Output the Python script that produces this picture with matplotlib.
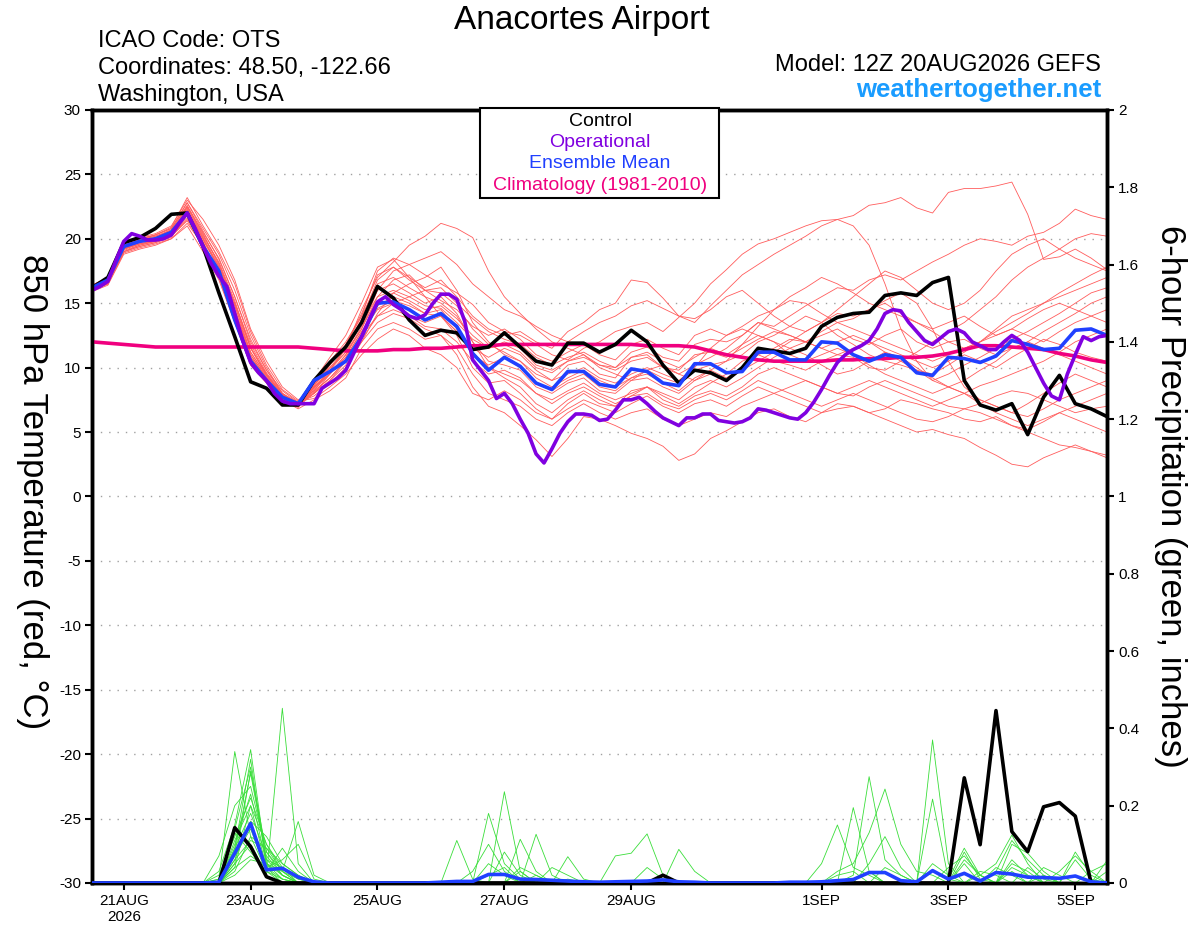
import numpy as np
import pandas as pd
import matplotlib
matplotlib.use('Agg')
import matplotlib.pyplot as plt
from matplotlib.patches import Rectangle

plt.rcParams['font.family'] = ['Liberation Sans', 'DejaVu Sans']

# 6-hourly ensemble times, 3-hourly operational times
times6 = pd.date_range('2026-08-20 12:00', periods=65, freq='6h')
times3 = pd.date_range('2026-08-20 12:00', periods=129, freq='3h')

tick_dates = pd.to_datetime(['2026-08-21', '2026-08-23', '2026-08-25', '2026-08-27',
                             '2026-08-29', '2026-09-01', '2026-09-03', '2026-09-05'])
tick_labels = ['21AUG\n2026', '23AUG', '25AUG', '27AUG', '29AUG', '1SEP', '3SEP', '5SEP']

# 850 hPa temperature (C)
control_t = [16.2, 17.0, 19.7, 20.1, 20.8, 21.9, 22.0, 19.4, 15.8, 12.4, 8.9, 8.4, 7.1, 7.1, 9.0, 10.4, 11.6, 13.5, 16.3, 15.4, 13.7, 12.5, 12.9, 12.7, 11.4,
             11.6, 12.7, 11.6, 10.5, 10.2, 11.9, 11.9, 11.2, 11.8, 12.9, 12.0, 10.2, 8.8, 9.8, 9.6, 9.0, 10.0,
             11.5, 11.3, 11.1, 11.5, 13.2, 13.9, 14.2, 14.3, 15.6, 15.8, 15.6, 16.6, 17.0, 9.0, 7.1, 6.7, 7.2, 4.8, 7.7, 9.4, 7.2, 6.8, 6.2]

mean_t = [16.2, 16.8, 19.4, 19.8, 20.0, 20.5, 22.0, 19.4, 17.5, 13.7, 10.5, 9.0, 7.7, 7.2, 9.0, 9.7, 10.5, 12.4, 15.0, 15.1, 14.5, 13.7, 14.2, 13.2, 11.1,
          9.8, 10.8, 10.1, 8.8, 8.3, 9.7, 9.7, 8.7, 8.5, 9.9, 9.7, 8.8, 8.6, 10.3, 10.3, 9.6, 9.7,
          11.2, 11.2, 10.6, 10.6, 12.0, 11.9, 11.0, 10.5, 11.0, 10.8, 9.6, 9.4, 10.8, 10.7, 10.4, 10.9, 12.1, 11.8, 11.4, 11.5, 12.9, 13.0, 12.5]

clim_t = [12.0, 11.9, 11.8, 11.7, 11.6, 11.6, 11.6, 11.6, 11.6, 11.6, 11.6, 11.6, 11.6, 11.6, 11.5, 11.4, 11.3, 11.3, 11.3, 11.4,
          11.4, 11.5, 11.5, 11.6, 11.7, 11.7, 11.8, 11.8, 11.8, 11.8, 11.8, 11.8, 11.8, 11.8, 11.8, 11.7, 11.7, 11.7, 11.6, 11.3,
          11.0, 10.8, 10.6, 10.5, 10.5, 10.5, 10.5, 10.6, 10.6, 10.7, 10.7, 10.8, 10.8, 10.9, 11.1, 11.4, 11.7, 11.7, 11.6, 11.5,
          11.4, 11.1, 10.9, 10.6, 10.4]

oper_t = [16.0, 16.3, 16.7, 18.3, 19.8, 20.4, 20.2, 19.9, 19.9, 20.0,
          20.3, 21.2, 22.0, 20.8, 19.4, 18.1, 17.1, 16.3, 14.2, 12.1,
          10.4, 9.6, 9.0, 8.0, 7.4, 7.2, 7.2, 7.2, 7.2, 8.4,
          8.8, 9.2, 9.8, 11.1, 12.4, 13.8, 15.1, 15.5, 14.9, 14.5,
          14.0, 13.8, 14.1, 15.0, 15.7, 15.7, 15.3, 13.6, 10.6, 9.8,
          9.0, 7.6, 8.0, 7.2, 6.0, 4.9, 3.3, 2.6, 3.7, 4.9,
          5.8, 6.4, 6.4, 6.3, 5.9, 6.0, 6.7, 7.5, 7.5, 7.7,
          7.2, 6.6, 6.1, 5.8, 5.5, 6.1, 6.1, 6.4, 6.4, 5.9,
          5.8, 5.7, 5.8, 6.1, 6.8, 6.7, 6.5, 6.3, 6.1, 6.0,
          6.5, 7.3, 8.3, 9.4, 10.4, 11.0, 11.4, 11.7, 12.1, 13.0,
          14.2, 14.5, 14.4, 13.5, 12.8, 12.1, 11.8, 12.3, 12.8, 13.0,
          12.7, 12.0, 11.7, 11.4, 11.4, 12.0, 12.5, 12.1, 11.2, 10.0,
          8.8, 7.8, 7.5, 9.5, 11.0, 12.4, 12.1, 12.4, 12.5]

members_t = [
    [16.1, 16.6, 19.0, 19.5, 19.8, 20.3, 22.5, 20.5, 18.5, 15.5, 12.0, 9.8, 8.2, 7.3,
     8.6, 10.2, 11.8, 14.0, 17.5, 18.5, 18.0, 17.2, 16.5, 15.8, 14.9,
     13.5, 12.8, 12.5, 11.8, 11.0, 10.6, 11.5, 12.0, 12.8, 13.2, 13.5, 12.8, 13.9, 15.0, 16.5, 17.6, 18.8,
     19.6, 20.0, 20.5, 21.0, 21.4, 21.5, 21.8, 22.6, 22.8, 23.2, 22.4, 22.0, 23.6, 23.9, 23.9, 24.1, 24.4, 21.9, 18.4, 18.6, 19.2, 18.5, 17.6],
    [16.3, 16.9, 19.5, 20.0, 20.3, 20.8, 22.8, 20.8, 18.8, 16.0, 12.5, 10.0, 8.0, 7.0,
     8.0, 9.5, 11.0, 13.0, 16.0, 17.5, 18.0, 18.5, 19.0, 18.0, 16.5,
     15.5, 14.5, 14.0, 13.2, 12.5, 12.0, 12.8, 13.5, 14.0, 14.8, 15.2, 14.6, 14.0, 13.5, 14.8, 16.0, 17.2,
     18.0, 18.8, 19.5, 20.2, 21.0, 21.5, 21.0, 19.5, 16.5, 13.0, 10.5, 9.0, 8.5, 8.0, 8.6, 9.0, 9.5, 10.0, 10.5, 11.2, 12.0, 12.5, 13.0],
    [16.0, 16.5, 19.2, 19.6, 19.9, 20.6, 22.2, 20.0, 17.8, 14.5, 11.0, 9.2, 7.8, 7.1,
     8.8, 10.0, 11.2, 13.0, 15.5, 16.0, 15.5, 14.8, 14.6, 13.5, 12.2,
     11.5, 11.8, 11.2, 10.0, 9.6, 10.5, 10.8, 10.2, 10.0, 11.2, 11.6, 10.8, 10.5, 11.8, 12.2, 12.0, 12.5,
     13.5, 13.2, 14.0, 14.8, 15.5, 16.2, 16.0, 16.8, 17.2, 16.8, 17.5, 18.2, 18.8, 19.5, 20.0, 19.8, 19.5, 20.2, 20.5, 21.2, 22.3, 21.8, 21.5],
    [16.4, 17.0, 19.6, 20.1, 20.4, 21.0, 23.0, 21.5, 19.5, 16.8, 13.0, 10.5, 8.5, 7.5,
     8.2, 9.8, 11.5, 14.5, 17.0, 18.2, 19.5, 20.2, 21.2, 20.8, 20.1,
     17.5, 15.5, 14.2, 13.0, 12.0, 11.5, 11.0, 10.0, 9.5, 9.0, 9.8, 10.2, 9.5, 9.0, 9.8, 10.5, 11.0,
     12.0, 12.5, 13.2, 14.0, 13.5, 12.5, 11.8, 11.0, 10.5, 10.2, 9.8, 9.0, 9.5, 10.2, 10.8, 11.5, 12.2, 12.8, 13.5, 14.2, 15.0, 15.8, 16.2],
    [15.9, 16.4, 18.8, 19.2, 19.5, 20.0, 21.0, 19.0, 16.8, 13.5, 10.2, 8.8, 7.5, 6.8,
     7.5, 8.2, 9.2, 11.5, 13.0, 13.5, 13.0, 12.2, 12.5, 11.0, 8.5,
     7.0, 6.5, 5.5, 4.4, 3.1, 4.5, 6.2, 6.0, 5.5, 4.9, 4.5, 3.9, 2.8, 3.3, 4.5, 5.1, 5.8,
     6.5, 6.8, 6.2, 5.8, 6.5, 7.2, 7.0, 6.5, 6.8, 7.5, 7.2, 6.8, 6.5, 6.0, 5.8, 6.2, 5.5, 5.0, 4.5, 4.0, 3.8, 3.5, 3.2],
    [16.2, 16.7, 19.2, 19.6, 19.8, 20.2, 21.5, 19.8, 17.2, 14.0, 10.8, 9.2, 7.6, 7.0,
     8.5, 9.5, 10.8, 12.8, 14.5, 15.0, 14.0, 13.5, 14.0, 12.5, 10.0,
     8.8, 9.0, 8.0, 6.8, 6.0, 6.8, 7.5, 7.0, 6.5, 7.2, 7.8, 7.0, 6.5, 7.2, 7.5, 7.0, 7.8,
     8.5, 8.0, 7.5, 7.0, 6.5, 6.8, 7.0, 6.5, 6.0, 5.5, 5.0, 5.2, 4.8, 4.5, 3.8, 3.2, 2.5, 2.3, 3.0, 3.5, 4.0, 3.5, 3.0],
    [16.1, 16.8, 19.5, 19.9, 20.2, 20.6, 22.4, 20.2, 18.2, 15.2, 11.5, 9.5, 7.9, 7.2,
     8.0, 9.0, 10.5, 12.0, 14.2, 15.8, 16.5, 17.0, 17.8, 16.0, 13.5,
     12.0, 11.0, 10.5, 9.5, 9.0, 9.5, 10.0, 9.2, 8.8, 9.5, 10.0, 9.5, 9.0, 10.0, 11.5, 12.5, 13.0,
     12.5, 12.0, 11.5, 12.0, 12.8, 13.5, 13.0, 12.5, 12.0, 11.5, 11.0, 10.5, 11.0, 11.5, 12.0, 12.5, 13.0, 12.5, 12.0, 12.8, 13.5, 14.0, 14.5],
    [16.3, 16.9, 19.3, 19.8, 20.0, 20.4, 22.0, 19.6, 17.5, 14.2, 10.8, 9.0, 7.6, 7.0,
     8.8, 10.5, 12.0, 14.0, 16.5, 17.0, 16.2, 15.5, 15.0, 14.0, 12.0,
     10.5, 10.2, 9.8, 8.5, 8.0, 8.8, 9.2, 8.2, 8.0, 9.0, 9.2, 8.5, 8.0, 9.0, 9.5, 9.0, 9.8,
     10.5, 11.2, 12.0, 12.8, 13.5, 14.2, 14.0, 14.5, 15.2, 15.8, 15.0, 13.0, 10.5, 8.5, 7.5, 7.0, 6.5, 6.2, 6.8, 7.5, 8.0, 8.5, 9.0],
    [16.0, 16.6, 19.0, 19.4, 19.7, 20.1, 21.8, 19.2, 17.0, 13.5, 10.2, 8.8, 7.5, 7.0,
     9.0, 10.8, 12.5, 15.0, 17.8, 18.4, 17.0, 15.5, 14.0, 12.8, 11.5,
     10.8, 11.5, 11.0, 9.8, 9.0, 10.2, 10.5, 9.5, 9.2, 10.8, 11.0, 10.0, 9.8, 11.0, 11.2, 10.8, 11.5,
     12.2, 12.8, 12.5, 12.0, 12.5, 13.0, 12.2, 11.8, 12.5, 13.0, 12.0, 11.5, 12.0, 12.2, 11.5, 11.0, 11.5, 12.0, 12.8, 13.5, 14.2, 15.0, 15.5],
    [16.2, 16.8, 19.4, 19.8, 20.1, 20.7, 22.6, 20.4, 18.0, 15.0, 11.8, 9.6, 8.0, 7.3,
     7.8, 8.8, 10.0, 12.0, 13.5, 14.2, 13.8, 13.0, 12.5, 11.5, 9.5,
     8.0, 7.5, 7.0, 6.0, 5.5, 6.5, 7.2, 6.5, 6.0, 6.5, 6.8, 6.0, 5.5, 6.0, 6.5, 6.2, 7.0,
     7.5, 8.0, 8.5, 9.0, 8.5, 8.0, 7.8, 8.5, 9.0, 8.5, 8.0, 7.5, 7.0, 6.8, 7.2, 7.8, 8.2, 8.0, 7.5, 7.0, 6.5, 6.8, 7.0],
    [16.1, 16.7, 19.3, 19.7, 20.0, 20.4, 22.2, 20.0, 17.6, 14.5, 11.2, 9.3, 7.8, 7.1,
     8.5, 9.8, 11.2, 13.5, 16.0, 16.5, 15.8, 15.0, 15.5, 14.2, 12.0,
     10.0, 9.5, 9.0, 8.0, 7.5, 8.2, 8.8, 8.0, 7.5, 8.0, 8.5, 7.8, 7.2, 8.0, 8.8, 9.5, 10.5,
     11.0, 10.5, 10.2, 9.8, 10.5, 11.0, 10.8, 10.0, 9.8, 10.5, 11.2, 12.0, 12.8, 13.5, 14.5, 15.5, 16.8, 17.8, 18.5, 19.2, 20.0, 20.4, 20.2],
    [16.0, 16.5, 18.9, 19.3, 19.6, 20.0, 21.2, 19.5, 17.2, 14.0, 10.8, 9.0, 7.7, 7.0,
     8.6, 10.0, 11.5, 13.5, 15.5, 16.8, 17.2, 16.0, 15.2, 14.5, 13.2,
     12.5, 13.0, 12.2, 11.0, 10.5, 11.2, 11.8, 11.0, 10.6, 11.8, 12.2, 11.5, 11.0, 12.5, 13.0, 12.5, 13.2,
     14.0, 14.5, 15.2, 15.0, 14.2, 13.5, 13.8, 14.5, 15.0, 14.2, 13.5, 13.0, 13.5, 14.0, 13.2, 12.5, 13.0, 13.8, 14.5, 15.0, 14.5, 14.0, 13.5],
    [16.3, 16.9, 19.4, 19.9, 20.3, 20.8, 22.8, 20.6, 18.4, 15.5, 12.2, 9.8, 8.0, 7.2,
     8.2, 9.2, 10.5, 12.5, 14.0, 14.5, 14.0, 13.2, 13.0, 12.0, 10.5,
     9.5, 9.8, 9.2, 8.0, 7.2, 8.0, 8.5, 7.8, 7.2, 7.8, 8.0, 7.2, 6.8, 7.5, 8.0, 7.5, 8.2,
     9.0, 8.5, 8.0, 7.5, 7.0, 7.5, 8.0, 7.5, 7.0, 6.5, 6.0, 5.8, 6.2, 6.8, 6.5, 6.0, 5.5, 5.2, 5.8, 6.5, 6.0, 5.5, 5.0],
    [16.2, 16.7, 19.2, 19.7, 20.0, 20.5, 22.1, 19.9, 17.8, 14.8, 11.2, 9.4, 7.8, 7.2,
     8.4, 9.8, 11.5, 13.8, 16.8, 17.8, 17.0, 16.2, 16.8, 15.5, 14.0,
     13.0, 12.5, 12.8, 12.0, 11.5, 12.8, 13.5, 14.5, 15.0, 16.8, 16.6, 15.4, 14.0, 13.8, 14.5, 15.5, 16.0,
     15.0, 14.0, 13.2, 12.8, 13.5, 14.5, 15.5, 16.5, 17.5, 17.0, 16.0, 15.0, 14.5, 15.0, 16.0, 17.5, 18.8, 19.5, 20.0, 19.2, 18.5, 18.0, 17.5],
    [16.0, 16.6, 19.1, 19.5, 19.8, 20.3, 21.6, 19.3, 17.0, 13.8, 10.5, 9.0, 7.6, 6.9,
     8.3, 9.5, 10.8, 12.8, 14.8, 15.5, 15.0, 14.2, 14.5, 13.0, 11.0,
     10.2, 10.8, 10.0, 8.8, 8.2, 9.0, 9.5, 8.5, 8.2, 9.2, 9.5, 8.8, 8.2, 9.2, 9.8, 9.2, 10.0,
     11.0, 11.5, 12.2, 12.0, 11.5, 11.0, 11.5, 12.0, 11.2, 10.5, 9.8, 9.5, 10.2, 11.0, 10.5, 10.0, 10.8, 11.5, 12.2, 11.8, 11.2, 10.8, 10.5],
    [16.4, 17.0, 19.6, 20.0, 20.3, 20.9, 23.2, 21.0, 19.0, 16.5, 12.8, 10.2, 8.3, 7.4,
     7.6, 8.5, 9.5, 11.0, 12.2, 13.0, 12.5, 11.5, 11.0, 10.0, 8.0,
     7.5, 8.2, 7.5, 6.5, 6.0, 7.2, 8.0, 7.2, 7.0, 8.2, 8.5, 7.5, 7.0, 7.8, 8.2, 7.8, 8.5,
     9.5, 10.0, 9.5, 9.0, 8.5, 8.0, 8.5, 9.0, 8.5, 8.0, 7.5, 7.0, 7.5, 8.0, 7.2, 6.5, 6.0, 5.5, 6.0, 6.5, 7.0, 7.5, 8.0],
    [16.1, 16.7, 19.2, 19.6, 19.9, 20.5, 21.9, 19.7, 17.4, 14.2, 10.8, 9.1, 7.7, 7.1,
     8.7, 10.2, 11.8, 14.2, 17.2, 17.8, 16.8, 16.0, 15.8, 14.8, 13.0,
     11.8, 11.2, 10.5, 9.2, 8.5, 9.2, 9.8, 9.0, 8.5, 9.2, 9.8, 9.2, 8.8, 9.8, 10.2, 10.5, 11.8,
     13.2, 14.5, 15.5, 16.2, 17.0, 16.5, 15.8, 15.0, 14.5, 14.0, 13.5, 12.8, 12.0, 11.5, 12.0, 12.8, 13.5, 14.2, 15.0, 15.5, 16.0, 16.5, 17.0],
    [16.2, 16.8, 19.3, 19.8, 20.1, 20.6, 22.3, 20.1, 17.9, 14.8, 11.5, 9.4, 7.9, 7.2,
     8.1, 9.2, 10.6, 12.6, 14.6, 15.2, 14.8, 14.2, 14.0, 12.8, 11.2,
     10.0, 9.2, 8.5, 7.2, 6.5, 7.5, 8.2, 7.5, 7.0, 7.8, 8.5, 8.0, 7.5, 8.5, 9.0, 8.5, 9.2,
     10.0, 10.8, 11.5, 11.0, 10.2, 9.5, 9.8, 10.5, 11.2, 10.8, 10.0, 9.2, 8.5, 8.0, 7.5, 7.0, 6.5, 7.2, 8.0, 8.8, 9.5, 9.0, 8.5],
    [16.0, 16.5, 19.0, 19.4, 19.7, 20.2, 21.4, 19.4, 17.3, 14.3, 11.0, 9.2, 7.8, 7.1,
     8.4, 9.6, 11.0, 13.2, 15.2, 15.8, 15.2, 14.5, 14.8, 13.8, 12.5,
     11.5, 12.0, 11.5, 10.2, 9.8, 10.5, 11.0, 10.2, 9.8, 10.5, 10.8, 10.0, 9.5, 10.2, 10.8, 11.5, 12.5,
     13.5, 13.0, 12.5, 12.0, 11.5, 12.0, 12.5, 12.0, 11.5, 11.0, 10.5, 10.0, 10.5, 11.2, 12.0, 13.0, 14.0, 14.5, 15.0, 15.8, 16.5, 17.2, 17.8],
    [16.3, 16.8, 19.5, 19.9, 20.2, 20.7, 22.5, 20.3, 18.1, 15.0, 11.6, 9.5, 7.9, 7.2,
     8.0, 9.0, 10.2, 12.2, 14.0, 15.0, 15.5, 16.0, 16.2, 15.0, 13.8,
     12.8, 12.2, 11.8, 10.8, 10.2, 10.8, 11.2, 10.5, 10.0, 10.8, 11.2, 10.5, 10.0, 10.8, 11.5, 11.0, 11.8,
     12.5, 12.0, 11.0, 10.5, 11.0, 11.5, 11.0, 10.2, 9.5, 9.0, 8.5, 8.0, 8.5, 9.0, 9.8, 10.5, 11.5, 12.0, 11.5, 11.0, 10.5, 10.0, 9.5],
]

# 6-hour precipitation (inches)
control_p = [0, 0, 0, 0, 0, 0, 0, 0, 0, .143, .094, .016, 0, 0, 0, 0, 0, 0, 0, 0, 0, 0, 0, 0, 0,
             0, 0, 0, 0, 0, 0, 0, 0, 0, 0, 0, .02, 0, 0, 0, 0, 0,
             0, 0, 0, 0, 0, 0, 0, 0, 0, 0, 0, 0, 0, .272, .099, .446, .133, .081, .197, .208, .173, 0, 0]

mean_p = [0, 0, 0, 0, 0, 0, 0, 0, .002, .077, .154, .034, .038, .015, .003, 0, 0, 0, 0, 0, 0, 0, .002, .004, .004,
          .022, .022, .010, .009, .007, .005, .003, .002, .003, .004, .005, .008, .003, .002, 0, 0, 0,
          0, 0, .002, .002, .003, .006, .009, .027, .027, .006, .003, .032, .010, .025, .005, .027, .023, .015, .014, .012, .018, .003, 0]

members_p = [
    [0,0,0,0,0, 0,0,0,.01,.34, .12,.03,.01,0,0, 0,0,0,0,0, 0,0,0,0,0, .18,.05,.01,0,0, 0,0,0,0,0, 0,0,0,0,0, 0,0,0,0,0, 0,0,0,.02,.275, .06,.02,0,0,0, 0,0,0,.06,.02, 0,0,0,0,0],
    [0,0,0,0,0, 0,0,0,.03,.15, .345,.05,.02,0,0, 0,0,0,0,0, 0,0,0,0,0, 0,.236,.03,0,0, .01,0,0,0,0, 0,0,0,0,0, 0,0,0,0,0, 0,0,.03,.05,.13, .243,.1,.03,.02,0, 0,.02,.05,.124,.05, 0,0,0,0,0],
    [0,0,0,0,0, 0,0,0,0,.08, .284,.06,.04,.01,0, 0,0,0,0,0, 0,0,0,.11,.01, 0,0,0,0,0, 0,0,0,0,0, 0,0,0,0,0, 0,0,0,0,0, 0,0,0,0,0, 0,0,0,.37,.05, 0,0,0,0,0, 0,0,.08,.02,0],
    [0,0,0,0,0, 0,0,0,0,.05, .1,.02,.452,.05,0, 0,0,0,0,0, 0,0,0,0,0, 0,0,.113,.03,0, 0,0,0,0,0, 0,0,0,0,0, 0,0,0,0,0, 0,0,0,0,0, 0,0,0,.217,.01, .09,.02,0,0,0, 0,0,0,0,0],
    [0,0,0,0,0, 0,0,0,.07,.2, .25,.08,.03,.159,.02, 0,0,0,0,0, 0,0,0,0,0, 0,0,0,.126,.02, 0,0,0,0,0, 0,0,0,0,0, 0,0,0,0,0, 0,.05,.15,.04,.02, 0,0,0,0,0, 0,0,0,0,0, .04,.02,0,0,.058],
    [0,0,0,0,0, 0,0,0,.02,.12, .22,.1,.04,0,0, 0,0,0,0,0, 0,0,0,0,0, 0,0,0,0,0, 0,0,0,.07,.077, .127,.02,0,0,0, 0,0,0,0,0, 0,0,0,0,0, 0,0,0,0,0, 0,0,.03,.11,.06, .02,0,0,0,0],
    [0,0,0,0,0, 0,0,0,0,.09, .18,.07,.02,0,0, 0,0,0,0,0, 0,0,0,0,0, 0,0,0,0,0, 0,0,0,0,0, 0,0,.087,.03,0, 0,0,0,0,0, 0,0,0,.195,.03, 0,0,0,0,0, .08,.01,0,0,0, 0,0,0,0,0],
    [0,0,0,0,0, 0,0,0,0,.1, .23,.05,.01,0,0, 0,0,0,0,0, 0,0,0,0,0, 0,0,0,0,0, .068,.01,0,0,0, 0,0,0,0,0, 0,0,0,0,0, 0,0,0,0,0, 0,0,0,0,0, 0,0,0,.1,.077, .03,0,0,.03,.05],
    [0,0,0,0,0, 0,0,0,0,.06, .16,.12,.05,.02,0, 0,0,0,0,0, 0,0,0,0,0, .05,.02,0,0,0, 0,0,0,0,0, 0,0,0,0,0, 0,0,0,0,0, 0,0,0,0,0, .04,.02,0,0,0, .06,.02,0,0,0, 0,0,0,0,0],
    [0,0,0,0,0, 0,0,0,0,.04, .07,.04,.06,.1,.01, 0,0,0,0,0, 0,0,0,0,0, 0,0,.04,.02,0, 0,0,0,0,0, 0,0,0,0,0, 0,0,0,0,0, 0,0,0,0,0, 0,0,0,0,0, 0,0,0,0,0, 0,0,.06,.01,0],
    [0,0,0,0,0, 0,0,0,0,.14, .3,.06,.02,0,0, 0,0,0,0,0, 0,0,0,0,.03, .1,.03,0,0,0, 0,0,0,0,0, 0,0,0,0,0, 0,0,0,0,0, 0,0,0,0,0, 0,0,0,0,.04, .07,.02,0,0,0, 0,0,0,0,0],
    [0,0,0,0,0, 0,0,0,0,.03, .12,.09,.03,0,0, 0,0,0,0,0, 0,0,0,0,0, 0,0,0,0,0, 0,0,0,0,0, .04,.01,0,0,0, 0,0,0,0,0, 0,0,0,0,0, 0,0,0,.05,.02, 0,0,0,.05,.03, 0,.03,.07,.03,0],
    [0,0,0,0,0, 0,0,0,.01,.07, .14,.03,.09,.03,0, 0,0,0,0,0, 0,0,0,0,0, 0,.08,.02,0,0, 0,0,0,0,0, 0,0,0,0,0, 0,0,0,0,0, 0,0,0,.01,.03, 0,0,0,0,0, 0,0,0,0,.04, .01,0,0,0,0],
    [0,0,0,0,0, 0,0,0,0,.11, .2,.04,0,0,0, 0,0,0,0,0, 0,0,0,0,0, 0,0,0,0,.04, .02,0,0,0,0, 0,0,0,0,0, 0,0,0,0,0, 0,0,0,0,0, 0,0,0,.03,.01, 0,0,0,0,0, 0,0,0,0,0],
    [0,0,0,0,0, 0,0,0,0,.05, .29,.08,.02,0,0, 0,0,0,0,0, 0,0,0,0,0, 0,0,0,0,0, 0,0,0,0,0, 0,0,0,0,0, 0,0,0,0,0, 0,0,.02,.03,0, 0,0,0,0,0, 0,0,0,.04,.02, 0,0,0,0,.03],
    [0,0,0,0,0, 0,0,0,0,.02, .06,.05,.03,.01,0, 0,0,0,0,0, 0,0,0,0,0, 0,0,0,.02,0, 0,0,0,0,0, 0,0,0,0,0, 0,0,0,0,0, 0,0,0,0,0, 0,0,0,0,0, 0,.03,.02,0,0, 0,0,0,0,0],
    [0,0,0,0,0, 0,0,0,0,.13, .08,.03,0,0,0, 0,0,0,0,0, 0,0,0,0,0, .02,.04,0,0,0, 0,0,0,0,0, 0,0,0,0,0, 0,0,0,0,0, 0,0,0,0,0, 0,0,0,0,0, .05,0,0,.03,0, 0,0,0,0,0],
    [0,0,0,0,0, 0,0,0,0,.04, .2,.1,.03,0,0, 0,0,0,0,0, 0,0,0,0,0, 0,0,0,0,0, 0,0,0,0,0, 0,0,0,0,0, 0,0,0,0,0, 0,0,0,0,.05, .12,.04,0,0,0, 0,0,0,0,0, 0,0,0,0,0],
    [0,0,0,0,0, 0,0,0,0,.09, .32,.04,.01,0,0, 0,0,0,0,0, 0,0,0,0,0, 0,0,.03,0,0, 0,0,0,0,0, 0,0,0,0,0, 0,0,0,0,0, 0,0,0,0,0, 0,0,0,0,0, 0,0,0,0,0, .02,0,0,0,0],
    [0,0,0,0,0, 0,0,0,0,.06, .11,.09,.05,.02,0, 0,0,0,0,0, 0,0,0,0,0, 0,0,0,0,0, 0,0,0,0,0, 0,0,0,0,0, 0,0,0,0,0, 0,0,0,0,0, 0,0,0,0,0, 0,0,.04,.02,0, 0,0,0,0,0],
]

RED = '#ff5c5c'
GREEN = '#3ade3a'
PURPLE = '#8000e0'
BLUE = '#2040ff'
MAGENTA = '#f0007f'

fig = plt.figure(figsize=(12, 9.27), dpi=100)
ax = fig.add_axes([0.0767, 0.0475, 0.8458, 0.8339])
ax2 = ax.twinx()

for m in members_t:
    ax.plot(times6, m, color=RED, lw=0.6, zorder=2)
ax.plot(times6, clim_t, color=MAGENTA, lw=2.6, zorder=3)
ax.plot(times6, control_t, color='black', lw=2.6, zorder=4)
ax.plot(times6, mean_t, color=BLUE, lw=2.6, zorder=5)
ax.plot(times3, oper_t, color=PURPLE, lw=2.6, zorder=6)

for m in members_p:
    ax2.plot(times6, m, color=GREEN, lw=0.6, zorder=2)
ax2.plot(times6, control_p, color='black', lw=2.6, zorder=4)
ax2.plot(times6, mean_p, color=BLUE, lw=2.6, zorder=5)

ax.set_xlim(times6[0], times6[-1])
ax.set_ylim(-30, 30)
ax2.set_ylim(0, 2)

ax.set_yticks(np.arange(-30, 31, 5))
ax.set_yticklabels([str(v) for v in range(-30, 31, 5)])
ax2.set_yticks(np.arange(0, 2.01, 0.2))
ax2.set_yticklabels(['0', '0.2', '0.4', '0.6', '0.8', '1', '1.2', '1.4', '1.6', '1.8', '2'])
ax.set_xticks(tick_dates)
ax.set_xticklabels(tick_labels)

for y in range(-25, 30, 5):
    ax.axhline(y, color='#a0a0a0', lw=1.0, ls=(0, (1, 5)), zorder=1)

for a in (ax, ax2):
    for s in a.spines.values():
        s.set_linewidth(2.5)
    a.tick_params(direction='out', length=5, width=1.5, labelsize=11, pad=3)

fig.text(0.485, 1 - 29 / 927, 'Anacortes Airport', fontsize=24, ha='center', va='baseline')
fig.text(98 / 1200, 1 - 47 / 927, 'ICAO Code: OTS', fontsize=17, ha='left', va='baseline')
fig.text(98 / 1200, 1 - 74 / 927, 'Coordinates: 48.50, -122.66', fontsize=17, ha='left', va='baseline')
fig.text(98 / 1200, 1 - 101 / 927, 'Washington, USA', fontsize=17, ha='left', va='baseline')
fig.text(1101 / 1200, 1 - 71 / 927, 'Model: 12Z 20AUG2026 GEFS', fontsize=17, ha='right', va='baseline')
fig.text(1101 / 1200, 1 - 97 / 927, 'weathertogether.net', fontsize=18.5, ha='right', va='baseline',
         color='#1a9cff', fontweight='bold')

# both axis titles read top to bottom
fig.text(32 / 1200, 1 - 492 / 927, '850 hPa Temperature (red, °C)', fontsize=25,
         rotation=270, ha='center', va='center')
fig.text(1170 / 1200, 1 - 496 / 927, '6-hour Precipitation (green, inches)', fontsize=25,
         rotation=270, ha='center', va='center')

# legend box
fig.patches.append(Rectangle((480 / 1200, 1 - 198 / 927), 239 / 1200, 90 / 927,
                             transform=fig.transFigure, facecolor='white',
                             edgecolor='black', lw=1.5, zorder=5))
legend_items = [('Control', 'black'), ('Operational', PURPLE),
                ('Ensemble Mean', BLUE), ('Climatology (1981-2010)', MAGENTA)]
for k, (txt, col) in enumerate(legend_items):
    fig.text(0.5, 1 - (121 + 21.5 * k) / 927, txt, color=col, fontsize=14,
             ha='center', va='center', zorder=6)

fig.savefig('out.png', dpi=100)
